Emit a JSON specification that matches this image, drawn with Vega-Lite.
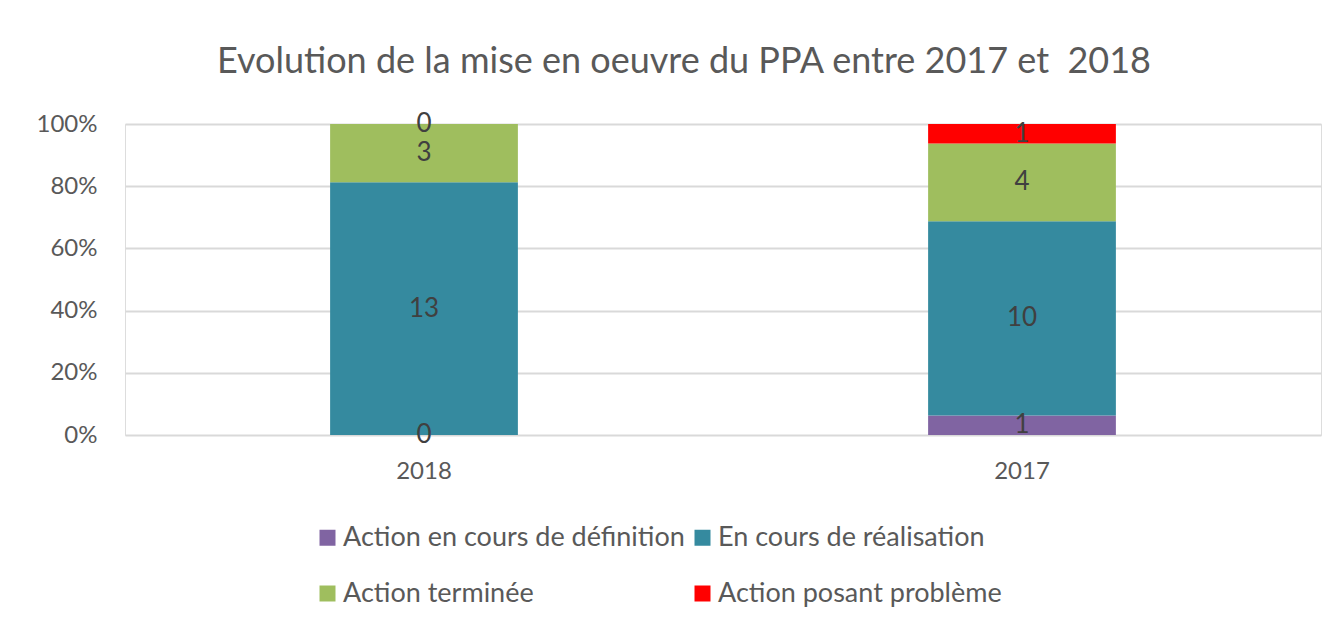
{
  "$schema": "https://vega.github.io/schema/vega-lite/v6.json",
  "width": 1196,
  "height": 311,
  "autosize": {"type": "none"},
  "padding": {"left": 125, "top": 124, "right": 15, "bottom": 195},
  "background": "white",
  "title": {
    "text": "Evolution de la mise en oeuvre du PPA entre 2017 et \u00a02018",
    "fontSize": 36,
    "font": "Lato",
    "fontWeight": "normal",
    "color": "#595959",
    "anchor": "middle",
    "dx": -39,
    "offset": 30
  },
  "data": {
    "values": [
      {"annee": "2018", "statut": "Action en cours de définition", "ordre": 1, "nombre": 0},
      {"annee": "2018", "statut": "En cours de réalisation", "ordre": 2, "nombre": 13},
      {"annee": "2018", "statut": "Action terminée", "ordre": 3, "nombre": 3},
      {"annee": "2018", "statut": "Action posant problème", "ordre": 4, "nombre": 0},
      {"annee": "2017", "statut": "Action en cours de définition", "ordre": 1, "nombre": 1},
      {"annee": "2017", "statut": "En cours de réalisation", "ordre": 2, "nombre": 10},
      {"annee": "2017", "statut": "Action terminée", "ordre": 3, "nombre": 4},
      {"annee": "2017", "statut": "Action posant problème", "ordre": 4, "nombre": 1}
    ]
  },
  "transform": [
    {"stack": "nombre", "groupby": ["annee"], "sort": [{"field": "ordre", "order": "ascending"}], "offset": "normalize", "as": ["y0", "y1"]},
    {"calculate": "(datum.y0 + datum.y1) / 2", "as": "ymid"}
  ],
  "encoding": {
    "x": {
      "field": "annee",
      "type": "nominal",
      "sort": ["2018", "2017"],
      "scale": {"paddingInner": 0.686, "paddingOuter": 0.343},
      "axis": {
        "title": null,
        "labelAngle": 0,
        "labelFont": "Lato",
        "labelFontSize": 24,
        "labelColor": "#595959",
        "labelPadding": 24,
        "domain": false,
        "ticks": false,
        "grid": false
      }
    }
  },
  "layer": [
    {
      "mark": {"type": "bar", "strokeWidth": 0},
      "encoding": {
        "y": {
          "field": "y0",
          "type": "quantitative",
          "scale": {"domain": [0, 1]},
          "axis": {
            "title": null,
            "values": [0, 0.2, 0.4, 0.6, 0.8, 1],
            "format": ".0%",
            "labelFont": "Lato",
            "labelFontSize": 24,
            "labelColor": "#595959",
            "labelPadding": 28,
            "domain": false,
            "ticks": false,
            "grid": true,
            "gridColor": "#d9d9d9",
            "gridWidth": 2
          }
        },
        "y2": {"field": "y1"},
        "color": {
          "field": "statut",
          "type": "nominal",
          "scale": {
            "domain": ["Action en cours de définition", "En cours de réalisation", "Action terminée", "Action posant problème"],
            "range": ["#8064A2", "#358A9F", "#9FBE5E", "#FF0000"]
          },
          "legend": {
            "orient": "none",
            "legendX": 189,
            "legendY": 400,
            "padding": 0,
            "columns": 2,
            "direction": "horizontal",
            "title": null,
            "symbolType": "square",
            "symbolSize": 256,
            "symbolStrokeWidth": 0,
            "labelFont": "Lato",
            "labelFontSize": 27,
            "labelColor": "#595959",
            "labelOffset": 2,
            "rowPadding": 28,
            "columnPadding": 4,
            "gridAlign": "all",
            "labelLimit": 600
          }
        }
      }
    },
    {
      "mark": {"type": "text", "font": "Lato", "fontSize": 26, "color": "#404040", "baseline": "middle"},
      "encoding": {
        "y": {"field": "ymid", "type": "quantitative"},
        "text": {"field": "nombre", "type": "quantitative"}
      }
    }
  ]
}
